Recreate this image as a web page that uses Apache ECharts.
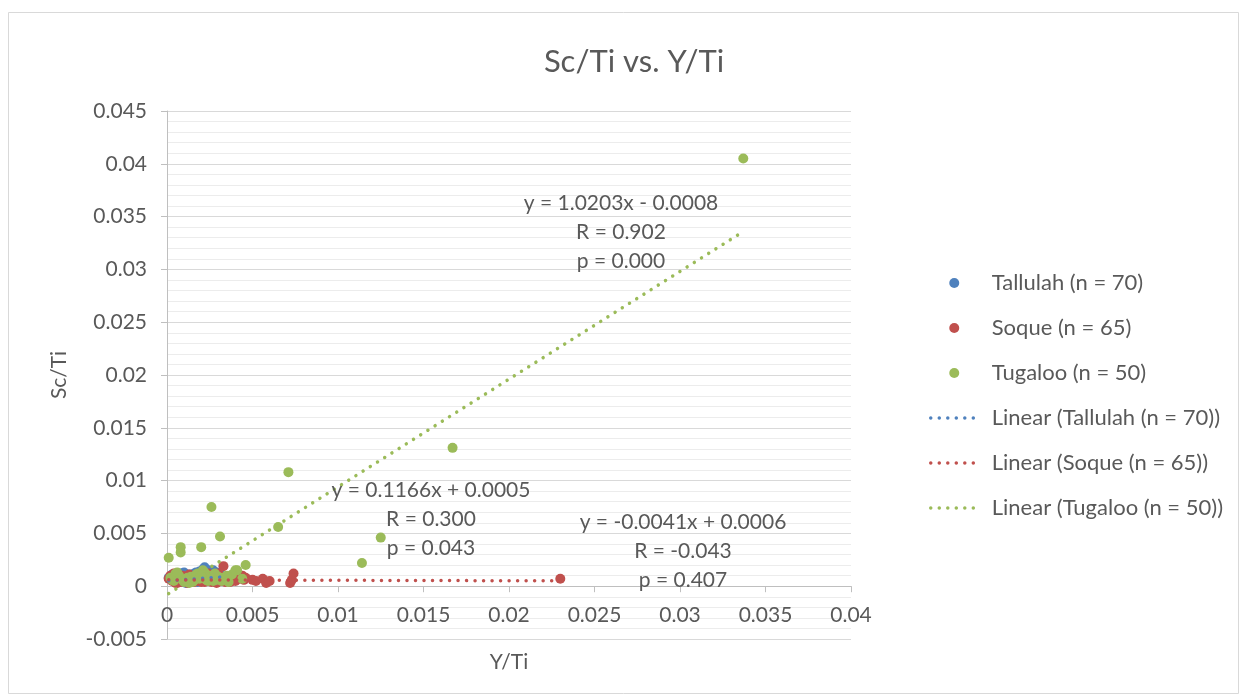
<!DOCTYPE html>
<html>
<head>
<meta charset="utf-8">
<script src="https://cdn.jsdelivr.net/npm/echarts@6/dist/echarts.min.js"></script>
<style>
html,body{margin:0;padding:0;background:#fff;}
#chart{width:1246px;height:700px;}
</style>
</head>
<body>
<div id="chart"></div>
<script>
// ---------- data ----------
const seriesNames = ['Tallulah (n = 70)', 'Soque (n = 65)', 'Tugaloo (n = 50)'];
const seriesColors = ['#4F81BD', '#C0504D', '#9BBB59'];

const tallulahX = [0.0002,0.0003,0.0004,0.0005,0.0005,0.0006,0.0007,0.0007,0.0008,0.0008,
  0.0009,0.0010,0.0010,0.0011,0.0011,0.0012,0.0012,0.0013,0.0013,0.0014,
  0.0014,0.0015,0.0015,0.0016,0.0016,0.0017,0.0017,0.0018,0.0018,0.0019,
  0.0019,0.0020,0.0020,0.0021,0.0021,0.0022,0.0022,0.0023,0.0023,0.0024,
  0.0024,0.0025,0.0025,0.0026,0.0026,0.0027,0.0027,0.0028,0.0028,0.0029,
  0.0029,0.0030,0.0030,0.0031,0.0032,0.0033,0.0034,0.0001,0.0003,0.0006,
  0.0009,0.0012,0.0015,0.0018,0.0020,0.0023,0.0026,0.0004,0.0010,0.0016];
const tallulahY = [0.0009,0.0007,0.0010,0.0008,0.0005,0.0011,0.0009,0.0006,0.0012,0.0004,
  0.0008,0.0010,0.0006,0.0003,0.0009,0.0007,0.0005,0.0011,0.0008,0.0006,
  0.0010,0.0004,0.0008,0.0012,0.0006,0.0009,0.0013,0.0007,0.0011,0.0005,
  0.0014,0.0009,0.0012,0.0007,0.0016,0.0018,0.0010,0.0013,0.0006,0.0011,
  0.0015,0.0008,0.0012,0.0014,0.0005,0.0015,0.0010,0.0007,0.0012,0.0009,
  0.0013,0.0006,0.0011,0.0008,0.0010,0.0007,0.0009,0.0008,0.0011,0.0004,
  0.0012,0.0010,0.0011,0.0004,0.0005,0.0009,0.0009,0.0006,0.0013,0.0009];

const soqueX = [0.0001,0.0002,0.0003,0.0004,0.0005,0.0006,0.0007,0.0008,0.0009,0.0010,
  0.0011,0.0012,0.0013,0.0014,0.0015,0.0016,0.0017,0.0018,0.0019,0.0020,
  0.0021,0.0022,0.0023,0.0024,0.0025,0.0026,0.0027,0.0028,0.0029,0.0030,
  0.0031,0.0032,0.0033,0.0034,0.0035,0.0036,0.0037,0.0038,0.0040,0.0042,
  0.0044,0.0045,0.0046,0.0050,0.0052,0.0056,0.0058,0.0060,0.0072,0.0073,
  0.0074,0.0230,0.0004,0.0008,0.0012,0.0016,0.0020,0.0024,0.0028,0.0032,
  0.0006,0.0014,0.0022,0.0030,0.0036];
const soqueY = [0.0007,0.0010,0.0005,0.0008,0.0003,0.0009,0.0006,0.0004,0.0010,0.0007,
  0.0005,0.0008,0.0011,0.0004,0.0007,0.0009,0.0005,0.0006,0.0008,0.0004,
  0.0010,0.0007,0.0005,0.0012,0.0006,0.0004,0.0009,0.0007,0.0003,0.0008,
  0.0006,0.0005,0.0019,0.0004,0.0007,0.0005,0.0004,0.0006,0.0005,0.0007,
  0.0010,0.0006,0.0008,0.0006,0.0005,0.0007,0.0003,0.0005,0.0003,0.0006,
  0.0012,0.0007,0.0012,0.0009,0.0003,0.0004,0.0011,0.0005,0.0010,0.0009,
  0.0003,0.0010,0.0004,0.0012,0.0008];

const tugalooX = [0.0337,0.0167,0.0071,0.0026,0.0031,0.0065,0.0125,0.0114,0.0008,0.0008,
  0.0020,0.0001,0.0046,0.0041,0.0002,0.0012,0.0016,0.0021,0.0029,0.0040,
  0.0004,0.0007,0.0010,0.0014,0.0018,0.0023,0.0025,0.0027,0.0033,0.0036,
  0.0005,0.0009,0.0013,0.0017,0.0019,0.0022,0.0024,0.0030,0.0034,0.0038,
  0.0003,0.0006,0.0011,0.0015,0.0020,0.0026,0.0028,0.0032,0.0035,0.0044];
const tugalooY = [0.0405,0.0131,0.0108,0.0075,0.0047,0.0056,0.0046,0.0022,0.0037,0.0032,
  0.0037,0.0027,0.0020,0.0015,0.0008,0.0008,0.0006,0.0015,0.0006,0.0015,
  0.0005,0.0010,0.0004,0.0009,0.0012,0.0006,0.0010,0.0005,0.0008,0.0004,
  0.0012,0.0006,0.0003,0.0011,0.0007,0.0013,0.0005,0.0009,0.0006,0.0011,
  0.0006,0.0013,0.0007,0.0004,0.0010,0.0008,0.0012,0.0005,0.0010,0.0007];

// Trendline coefficients (from chart labels)
const trendSlopes = [0.1166, -0.0041, 1.0203];
const trendIntercepts = [0.0005, 0.0006, -0.0008];
const trendR = ['0.300', '-0.043', '0.902'];
const trendP = ['0.043', '0.407', '0.000'];
const trendEq = ['y = 0.1166x + 0.0005', 'y = -0.0041x + 0.0006', 'y = 1.0203x - 0.0008'];

const xTicks = { min: 0, max: 0.04, interval: 0.005 };
const yTicks = { min: -0.005, max: 0.045, interval: 0.005 };

// ---------- build ----------
const xs = [tallulahX, soqueX, tugalooX];
const ys = [tallulahY, soqueY, tugalooY];
const FONT = 'Lato';
const TXT = '#595959';
const DOTS = { width: 3.5, type: [0.01, 8.5], cap: 'round' };

const GRID = { left: 167, right: 395, top: 111, bottom: 61 };
const gridH = 700 - GRID.top - GRID.bottom;
// shift the x axis up so it crosses the y axis at 0
const xAxisOffset = -gridH * (0 - yTicks.min) / (yTicks.max - yTicks.min);

const series = [];
seriesNames.forEach((n, i) => {
  series.push({
    name: n, type: 'scatter', symbolSize: 10, z: 3,
    itemStyle: { color: seriesColors[i], opacity: 1 },
    data: xs[i].map((x, k) => [x, ys[i][k]])
  });
});
seriesNames.forEach((n, i) => {
  const x0 = Math.min(...xs[i]), x1 = Math.max(...xs[i]);
  const f = x => trendSlopes[i] * x + trendIntercepts[i];
  series.push({
    name: 'Linear (' + n + ')', type: 'line', symbol: 'none', z: 4,
    silent: true,
    lineStyle: Object.assign({ color: seriesColors[i] }, DOTS),
    itemStyle: { color: seriesColors[i] },
    data: [[x0, f(x0)], [x1, f(x1)]]
  });
});

// annotation positions (pixel layout)
const annPos = [[431, 490], [683, 522], [621, 203]];
const graphics = [{
  type: 'rect', shape: { x: 8.5, y: 12.5, width: 1230, height: 681 },
  style: { fill: null, stroke: '#d9d9d9', lineWidth: 1 }, z: -1
}];
annPos.forEach((p, i) => {
  [trendEq[i], 'R = ' + trendR[i], 'p = ' + trendP[i]].forEach((t, j) => {
    graphics.push({
      type: 'text', x: p[0], y: p[1] + j * 29, z: 10,
      style: { text: t, fill: TXT, font: '21px ' + FONT, textAlign: 'center', textVerticalAlign: 'middle' }
    });
  });
});

const legendData = seriesNames.map(n => ({ name: n, icon: 'circle' }))
  .concat(seriesNames.map(n => ({ name: 'Linear (' + n + ')', itemStyle: { opacity: 0 } })));

const chart = echarts.init(document.getElementById('chart'), null, { renderer: 'canvas' });
chart.setOption({
  animation: false,
  backgroundColor: '#fff',
  title: {
    text: 'Sc/Ti vs. Y/Ti', left: 629, top: 41, textAlign: 'center',
    textStyle: { color: TXT, fontFamily: FONT, fontSize: 31, fontWeight: 'normal' }
  },
  grid: Object.assign({ outerBoundsMode: 'none', containLabel: false }, GRID),
  legend: {
    orient: 'vertical', left: 924, top: 267,
    itemWidth: 47, itemHeight: 10, itemGap: 23,
    lineStyle: DOTS,
    textStyle: { color: TXT, fontFamily: FONT, fontSize: 22, lineHeight: 22, padding: [0, 0, 0, 9] },
    data: legendData
  },
  xAxis: {
    type: 'value', min: xTicks.min, max: xTicks.max, interval: xTicks.interval,
    offset: xAxisOffset,
    name: 'Y/Ti', nameLocation: 'middle', nameGap: 66,
    nameTextStyle: { color: TXT, fontFamily: FONT, fontSize: 21 },
    axisLine: { onZero: false, lineStyle: { color: '#bfbfbf', width: 1 } },
    axisTick: { show: true, length: 6, lineStyle: { color: '#bfbfbf' } },
    axisLabel: { color: TXT, fontFamily: FONT, fontSize: 21, margin: 19 },
    splitLine: { show: false }
  },
  yAxis: {
    type: 'value', min: yTicks.min, max: yTicks.max, interval: yTicks.interval,
    name: 'Sc/Ti', nameLocation: 'middle', nameGap: 97, nameRotate: 90,
    nameTextStyle: { color: TXT, fontFamily: FONT, fontSize: 21 },
    axisLine: { show: true, onZero: false, lineStyle: { color: '#bfbfbf', width: 1 } },
    axisTick: { show: true, length: 6, lineStyle: { color: '#bfbfbf' } },
    axisLabel: { color: TXT, fontFamily: FONT, fontSize: 21, margin: 20,
      formatter: v => String(parseFloat(v.toFixed(4))) },
    splitLine: { show: true, lineStyle: { color: '#d9d9d9', width: 1 } },
    minorTick: { show: false, splitNumber: 5 },
    minorSplitLine: { show: true, lineStyle: { color: '#ececec', width: 1 } }
  },
  graphic: graphics,
  series: series
});
</script>
</body>
</html>
